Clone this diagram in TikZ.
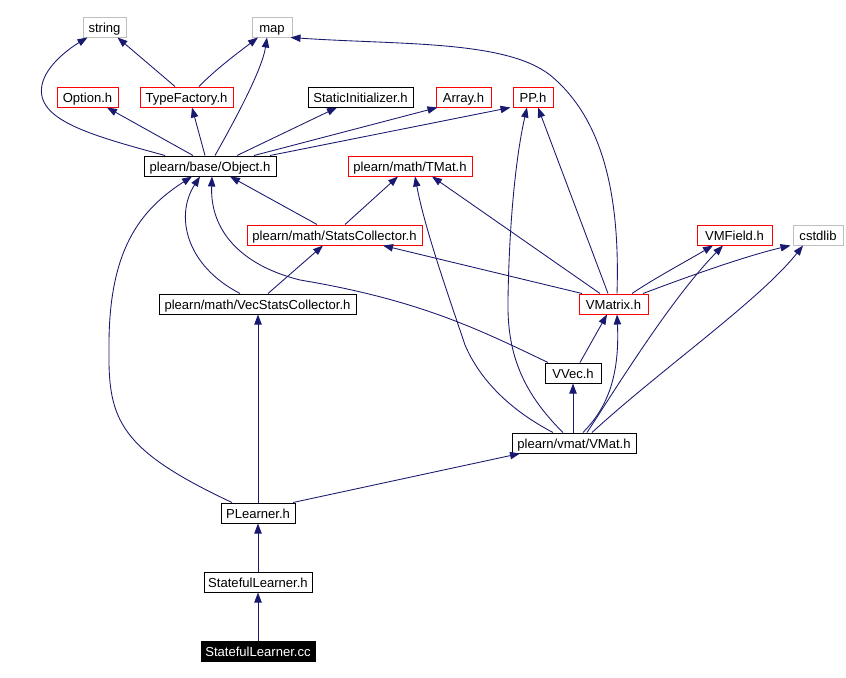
\documentclass[tikz,border=0pt]{standalone}
\usepackage{fontspec}
\setmainfont{Liberation Sans}
\usetikzlibrary{arrows.meta,calc}
\definecolor{edgec}{RGB}{25,25,112}
\definecolor{grayc}{RGB}{191,191,191}
\begin{document}
\begin{tikzpicture}[x=0.75pt,y=-0.75pt,
  box/.style={font=\fontsize{9.8}{11}\selectfont, inner sep=0pt, text height=9pt, text depth=0.8pt, minimum height=15pt, line width=0.75pt},
  bb/.style={box, draw=black},
  rb/.style={box, draw=red},
  gb/.style={box, draw=grayc},
  fb/.style={box, draw=black, fill=black, text=white},
  w/.style={minimum width=#1*0.75pt},
  dep/.style={draw=edgec, line width=0.65pt, -{Triangle[length=7.5pt,width=5.5pt]}, fill=none}
]
\fill[white] (0,0) rectangle (846,678);
\useasboundingbox (0,0) rectangle (846,678);

\node[gb,w=43] (str) at (104.5,27) {string};
\node[gb,w=40] (map) at (272,27) {map};
\node[rb,w=61] (opt) at (87.5,97) {Option.h};
\node[rb,w=93] (tf) at (186.5,97) {TypeFactory.h};
\node[bb,w=105] (si) at (360.5,97) {StaticInitializer.h};
\node[rb,w=55] (arr) at (463.5,97) {Array.h};
\node[rb,w=40] (pp) at (533,97) {PP.h};
\node[bb,w=132] (obj) at (210,166) {plearn/base/Object.h};
\node[rb,w=124] (tmat) at (410,166) {plearn/math/TMat.h};
\node[rb,w=175] (sc) at (334.5,235) {plearn/math/StatsCollector.h};
\node[rb,w=75] (vmf) at (734.5,235) {VMField.h};
\node[gb,w=50] (cstd) at (818,235) {cstdlib};
\node[bb,w=197] (vsc) at (257.5,304) {plearn/math/VecStatsCollector.h};
\node[rb,w=69] (vmx) at (613.5,304) {VMatrix.h};
\node[bb,w=56] (vvec) at (573,373) {VVec.h};
\node[bb,w=124] (vmat) at (574,443) {plearn/vmat/VMat.h};
\node[bb,w=74] (pl) at (258,513) {PLearner.h};
\node[bb,w=108] (slh) at (258,582) {StatefulLearner.h};
\node[fb,w=114] (slc) at (258,651) {StatefulLearner.cc};

% edges
\draw[dep] ($(obj.north)+(-45,0)$) .. controls (90,135) and (35,120) .. (42,85) .. controls (46,65) and (70,48) .. ($(str.south)+(-17,0)$);
\draw[dep] ($(tf.north)+(-11.5,0)$) -- ($(str.south)+(13,0)$);
\draw[dep] ($(tf.north)+(12.5,0)$) .. controls (215,70) and (235,55) .. ($(map.south)+(-14,0)$);
\draw[dep] ($(obj.north)+(5,0)$) .. controls (235,120) and (262,70) .. ($(map.south)+(-5,0)$);
\draw[dep] ($(vmx.north)+(3.5,0)$) .. controls (620,200) and (605,120) .. (550,75) .. controls (505,40) and (400,45) .. ($(map.south east)+(-2,0)$);
\draw[dep] ($(obj.north)+(-17,0)$) -- ($(opt.south)+(19.5,0)$);
\draw[dep] ($(obj.north)+(-5,0)$) -- ($(tf.south)+(5.5,0)$);
\draw[dep] ($(obj.north)+(27,0)$) -- ($(si.south)+(-23.5,0)$);
\draw[dep] ($(obj.north)+(44,0)$) -- ($(arr.south)+(-26,0)$);
\draw[dep] ($(obj.north)+(60,0)$) -- ($(pp.south west)+(-2,0)$);
\draw[dep] ($(sc.north)+(-17.5,0)$) -- ($(obj.south)+(20,0)$);
\draw[dep] ($(sc.north)+(10.5,0)$) -- ($(tmat.south)+(-12,0)$);
\draw[dep] ($(vsc.north)+(-17.5,0)$) .. controls (185,265) and (175,215) .. ($(obj.south)+(-10,0)$);
\draw[dep] ($(vsc.north)+(10.5,0)$) -- ($(sc.south)+(-11.5,0)$);
\draw[dep] ($(pl.north)+(-26,0)$) .. controls (120,450) and (108,420) .. (109,350) .. controls (108,250) and (140,210) .. ($(obj.south)+(-18,0)$);
\draw[dep] ($(vvec.north)+(-25,0)$) .. controls (480,330) and (420,300) .. (300,280) .. controls (240,265) and (210,230) .. ($(obj.south)+(2,0)$);
\draw[dep] ($(vmx.north)+(-13.5,0)$) -- ($(tmat.south)+(22,0)$);
\draw[dep] ($(vmat.north)+(-21,0)$) .. controls (510,410) and (480,380) .. (465,345) .. controls (450,300) and (425,230) .. ($(tmat.south)+(5,0)$);
\draw[dep] ($(vmx.north)+(-31.5,0)$) -- ($(sc.south)+(48.5,0)$);
\draw[dep] ($(vmx.north)+(-5.5,0)$) -- ($(pp.south)+(5,0)$);
\draw[dep] ($(vmat.north)+(-11,0)$) .. controls (520,390) and (507,350) .. (508,300) .. controls (509,230) and (515,160) .. ($(pp.south)+(-6,0)$);
\draw[dep] ($(vmx.north)+(18.5,0)$) .. controls (655,278) and (685,262) .. ($(vmf.south)+(-21.5,0)$);
\draw[dep] ($(vmx.north)+(29.5,0)$) .. controls (700,272) and (750,255) .. ($(cstd.south west)+(-2,0)$);
\draw[dep] ($(vmat.north)+(13,0)$) .. controls (615,390) and (670,300) .. ($(vmf.south)+(-11.5,0)$);
\draw[dep] ($(vmat.north)+(18,0)$) .. controls (660,370) and (760,300) .. ($(cstd.south)+(-15,0)$);
\draw[dep] ($(vmat.north)+(9,0)$) .. controls (605,410) and (620,380) .. ($(vmx.south)+(3.5,0)$);
\draw[dep] ($(vvec.north)+(7,0)$) -- ($(vmx.south)+(-6.5,0)$);
\draw[dep] ($(vmat.north)+(-1,0)$) -- (vvec.south);
\draw[dep] ($(pl.north)+(35,0)$) -- ($(vmat.south)+(-54,0)$);
\draw[dep] (pl.north) -- ($(vsc.south)+(0.5,0)$);
\draw[dep] (slh.north) -- (pl.south);
\draw[dep] (slc.north) -- (slh.south);
\end{tikzpicture}
\end{document}
